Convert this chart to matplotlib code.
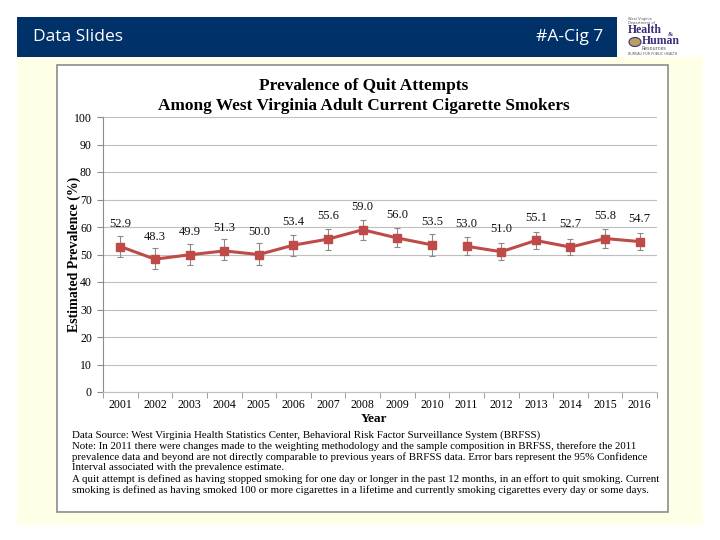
import matplotlib.pyplot as plt
import numpy as np
from matplotlib.patches import Rectangle

# Data
years = ['2001', '2002', '2003', '2004', '2005', '2006', '2007', '2008',
         '2009', '2010', '2011', '2012', '2013', '2014', '2015', '2016']
values = [52.9, 48.3, 49.9, 51.3, 50.0, 53.4, 55.6, 59.0,
          56.0, 53.5, 53.0, 51.0, 55.1, 52.7, 55.8, 54.7]
ci_low = [49.2, 44.8, 46.1, 47.9, 46.1, 49.5, 51.8, 55.3,
          52.6, 49.6, 50.0, 47.9, 51.9, 49.7, 52.5, 51.6]
ci_high = [56.8, 52.2, 54.0, 55.8, 54.1, 57.2, 59.4, 62.7,
           59.7, 57.3, 56.4, 54.1, 58.3, 55.8, 59.1, 57.9]

title_lines = 'Prevalence of Quit Attempts\nAmong West Virginia Adult Current Cigarette Smokers'
footnote = ("Data Source: West Virginia Health Statistics Center, Behavioral Risk Factor Surveillance System (BRFSS)\n"
            "Note: In 2011 there were changes made to the weighting methodology and the sample composition in BRFSS, therefore the 2011\n"
            "prevalence data and beyond are not directly comparable to previous years of BRFSS data. Error bars represent the 95% Confidence\n"
            "Interval associated with the prevalence estimate.\n"
            "A quit attempt is defined as having stopped smoking for one day or longer in the past 12 months, in an effort to quit smoking. Current\n"
            "smoking is defined as having smoked 100 or more cigarettes in a lifetime and currently smoking cigarettes every day or some days.")

W, H = 720, 540
fig = plt.figure(figsize=(7.2, 5.4), dpi=100)
fig.patch.set_facecolor('white')

def box(x0, y0, x1, y1, **kw):
    # pixel coords (top-left origin) -> figure fraction
    fig.patches.append(Rectangle((x0 / W, 1 - y1 / H), (x1 - x0) / W, (y1 - y0) / H,
                                 transform=fig.transFigure, figure=fig, **kw))

# slide background and header
box(17, 57, 703, 525, facecolor='#FFFEE6', edgecolor='none', zorder=0)
box(17, 17, 617, 57, facecolor='#003169', edgecolor='none', zorder=0)
box(57, 65, 668, 512, facecolor='white', edgecolor='#8C8C8C', linewidth=1.2, zorder=0)

fig.text(33 / W, 1 - 37 / H, 'Data Slides', color='white', fontsize=12.5,
         family='Open Sans', va='center', ha='left')
fig.text(603 / W, 1 - 37 / H, '#A-Cig 7', color='white', fontsize=12.5,
         family='Open Sans', va='center', ha='right')

# logo (text approximation)
logo_c = '#3A2E7C'
fig.text(628 / W, 1 - 21 / H, 'West Virginia\nDepartment of', color='#555555', fontsize=2.6,
         va='center', ha='left', linespacing=1.0)
fig.text(628 / W, 1 - 30 / H, 'Health', color=logo_c, fontsize=8.5, weight='bold',
         family='Liberation Serif', va='center', ha='left')
fig.text(668 / W, 1 - 34 / H, '&', color=logo_c, fontsize=4.5, weight='bold',
         family='Liberation Serif', va='center', ha='left')
fig.text(642 / W, 1 - 41 / H, 'Human', color=logo_c, fontsize=8.5, weight='bold',
         family='Liberation Serif', va='center', ha='left')
fig.text(642 / W, 1 - 49 / H, 'Resources', color='#555555', fontsize=3.5,
         va='center', ha='left')
fig.text(628 / W, 1 - 54 / H, 'BUREAU FOR PUBLIC HEALTH', color='#555555', fontsize=2.4,
         va='center', ha='left')
logo_circle = plt.Circle((635 / W, 1 - 42 / H), 6 / W, transform=fig.transFigure,
                         facecolor='#B8A060', edgecolor=logo_c, linewidth=0.8)
fig.patches.append(logo_circle)

# chart axes
ax = fig.add_axes([103 / W, 1 - 392 / H, (657 - 103) / W, (392 - 117) / H])
ax.set_zorder(5)
ax.set_facecolor('white')
x = np.arange(len(years))
vals = np.array(values)
lo = vals - np.array(ci_low)
hi = np.array(ci_high) - vals

red = '#BE4B48'
ax.errorbar(x, vals, yerr=[lo, hi], fmt='none', ecolor='#8A8A8A', elinewidth=0.8,
            capsize=2.2, capthick=0.8, zorder=2)
# break between 2010 and 2011 (methodology change)
ax.plot(x[:10], vals[:10], color=red, linewidth=2.2, marker='s', markersize=6, zorder=3)
ax.plot(x[10:], vals[10:], color=red, linewidth=2.2, marker='s', markersize=6, zorder=3)

for xi, v in zip(x, values):
    ax.annotate(f'{v:.1f}', (xi, v), xytext=(0, 12), textcoords='offset points',
                ha='center', va='bottom', fontsize=9, family='Liberation Serif',
                color='#111111')

ax.set_xlim(-0.5, len(years) - 0.5)
ax.set_ylim(0, 100)
ax.set_yticks(np.arange(0, 101, 10))
ax.set_xticks(x)
ax.set_xticklabels(years)
ax.set_xticks(np.arange(-0.5, len(years), 1), minor=True)
ax.tick_params(axis='x', which='major', length=0, pad=5)
ax.tick_params(axis='x', which='minor', length=4, color='#8C8C8C', direction='out')
ax.tick_params(axis='y', length=4, color='#8C8C8C', pad=4)
for lab in ax.get_xticklabels() + ax.get_yticklabels():
    lab.set_family('Liberation Serif')
    lab.set_fontsize(8.5)
ax.grid(axis='y', color='#BFBFBF', linewidth=0.8)
ax.set_axisbelow(True)
for s in ['top', 'right']:
    ax.spines[s].set_visible(False)
ax.spines['left'].set_color('#8C8C8C')
ax.spines['bottom'].set_color('#BFBFBF')

ax.set_xlabel('Year', family='Liberation Serif', weight='bold', fontsize=9.5)
ax.xaxis.set_label_coords(0.49, -0.075)
ax.set_ylabel('Estimated Prevalence (%)', family='Liberation Serif', weight='bold',
              fontsize=10)
ax.yaxis.set_label_coords(-0.04, 0.5)

fig.text(364 / W, 1 - 96 / H, title_lines, ha='center', va='center', fontsize=12.4,
         weight='bold', family='Liberation Serif', linespacing=1.3)

fig.text(72 / W, 1 - 430 / H, footnote, ha='left', va='top', fontsize=7.8,
         family='Liberation Serif', linespacing=1.2)

plt.savefig('out.png', dpi=100, facecolor='white')
